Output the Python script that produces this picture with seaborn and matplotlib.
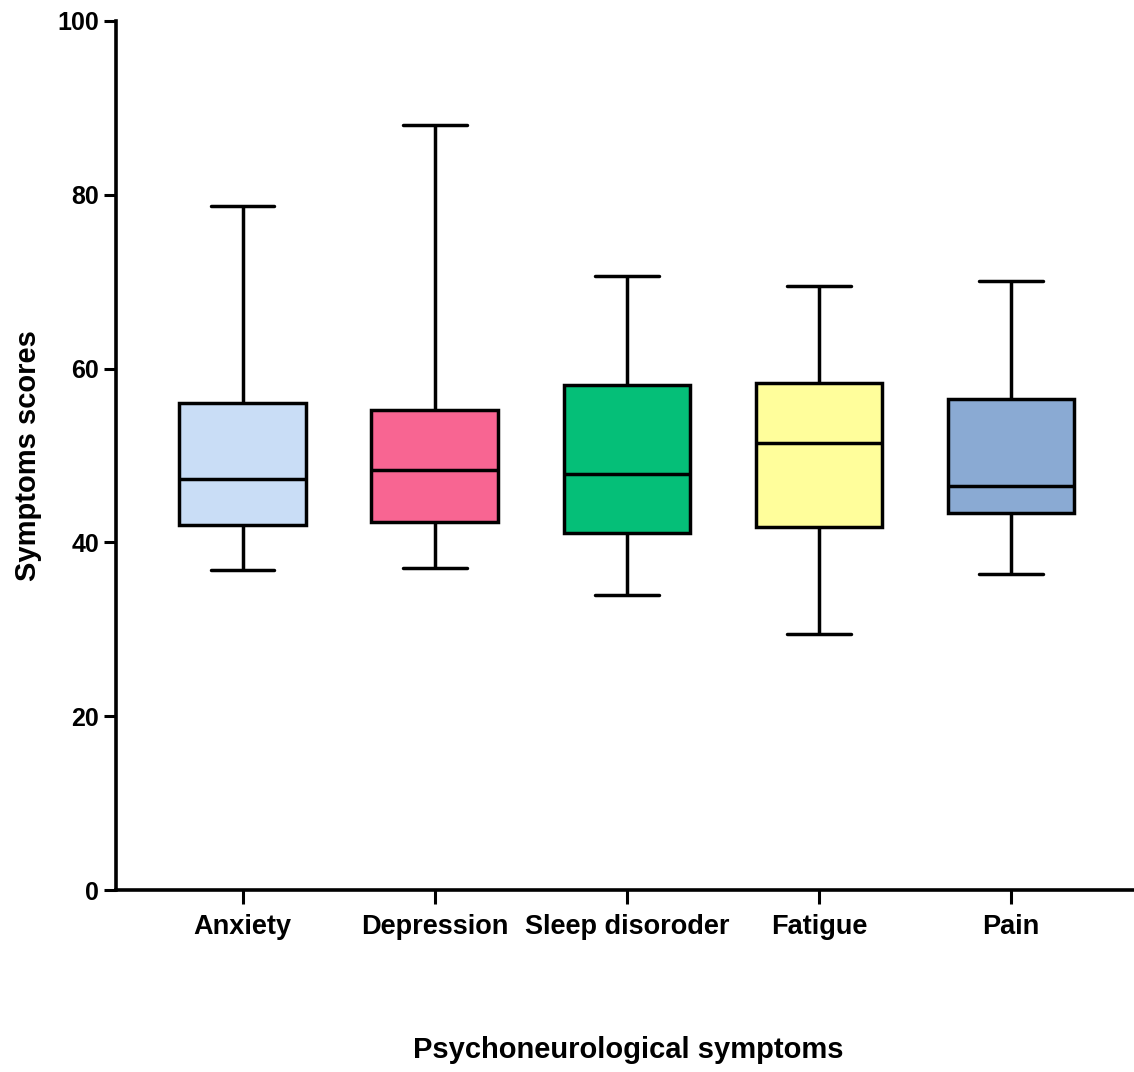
import matplotlib
matplotlib.use("Agg")
import matplotlib.pyplot as plt
import seaborn as sns
import pandas as pd

categories = ["Anxiety", "Depression", "Sleep disoroder", "Fatigue", "Pain"]
# five-number summaries: min, Q1, median, Q3, max
mins    = [36.8, 37.0, 33.9, 29.5, 36.4]
q1s     = [42.0, 42.3, 41.1, 41.8, 43.4]
medians = [47.3, 48.3, 47.9, 51.4, 46.5]
q3s     = [56.0, 55.2, 58.1, 58.4, 56.5]
maxs    = [78.7, 88.0, 70.6, 69.5, 70.1]
colors  = ["#C9DDF6", "#F86592", "#05BF78", "#FFFE9B", "#8AAAD3"]

rows = []
for c, a, b, m, d, e in zip(categories, mins, q1s, medians, q3s, maxs):
    for v in (a, b, m, d, e):
        rows.append({"Symptom": c, "Score": v})
df = pd.DataFrame(rows)

sns.set_style("ticks")
plt.rcParams["font.family"] = ["Liberation Sans", "DejaVu Sans"]
plt.rcParams["font.weight"] = "bold"
plt.rcParams["text.color"] = "black"
plt.rcParams["axes.labelcolor"] = "black"

fig = plt.figure(figsize=(11.34, 10.72), dpi=100)
ax = fig.add_axes([116/1134, 1-890/1072, (1134-116)/1134, (890-21)/1072])

sns.boxplot(data=df, x="Symptom", y="Score", hue="Symptom", order=categories,
            hue_order=categories, palette=colors, whis=(0, 100), width=0.66,
            linewidth=2.5, linecolor="black", legend=False, ax=ax, saturation=1)

ax.set_xlim(-0.66, 4.64)
ax.set_ylim(0, 100)
ax.set_yticks([0, 20, 40, 60, 80, 100])
sns.despine(ax=ax)
for s in ("left", "bottom"):
    ax.spines[s].set_linewidth(2.6)
    ax.spines[s].set_color("black")

ax.tick_params(axis="y", length=9, width=2.2, pad=3, labelsize=18, colors="black")
ax.tick_params(axis="x", length=10, width=2.2, pad=7, labelsize=19.5, colors="black")
for lab in ax.get_xticklabels() + ax.get_yticklabels():
    lab.set_fontweight("bold")

ax.set_xlabel("Psychoneurological symptoms", fontsize=21, fontweight="bold", color="black")
ax.set_ylabel("Symptoms scores", fontsize=21, fontweight="bold", color="black")
ax.xaxis.set_label_coords(0.503, -0.184)
ax.xaxis.label.set_va("center")
ax.yaxis.set_label_coords(-0.0864, 0.5)
ax.yaxis.label.set_va("center")

fig.savefig("out.png", dpi=100, facecolor="white")
